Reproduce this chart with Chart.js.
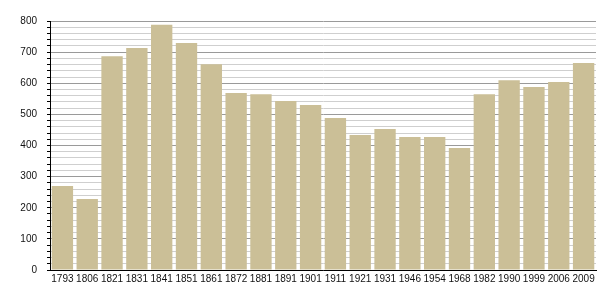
<!DOCTYPE html>
<html><head><meta charset="utf-8">
<script src="https://cdn.jsdelivr.net/npm/chart.js@4"></script>
<style>html,body{margin:0;padding:0;background:#fff}#w{width:605px;height:300px}</style>
</head><body><div id="w"><canvas id="c"></canvas></div>
<script>
const years = ["1793","1806","1821","1831","1841","1851","1861","1872","1881","1891","1901","1911","1921","1931","1946","1954","1968","1982","1990","1999","2006","2009"];
const population = [270,228,687,713,788,729,661,569,565,543,530,488,434,453,427,427,392,565,610,588,604,665];
const yTicks = [0,100,200,300,400,500,600,700,800];

new Chart(document.getElementById('c'), {
  type: 'bar',
  data: { labels: years, datasets: [{ data: population, backgroundColor: '#cbbf97', borderWidth: 0, barPercentage: 0.86, categoryPercentage: 1 }] },
  options: {
    responsive: true, maintainAspectRatio: false, animation: false,
    layout: { padding: { left: 0, right: 9, top: 21, bottom: 0 } },
    plugins: { legend: { display: false }, tooltip: { enabled: false } },
    scales: {
      x: {
        offset: true,
        grid: { display: false, drawTicks: false },
        border: { color: '#000', width: 1 },
        ticks: { color: '#111', font: { family: 'Liberation Sans', size: 10 }, padding: 3, maxRotation: 0, autoSkip: false },
        afterFit: s => { s.height = 30; }
      },
      y: {
        min: 0, max: 800,
        grid: {
          color: c => (c.tick && c.tick.value % 100 === 0) ? '#9a9a9a' : '#cfcfcf',
          tickColor: '#000', tickLength: 3, drawTicks: true
        },
        border: { color: '#000', width: 1 },
        ticks: {
          stepSize: 20, autoSkip: false,
          color: '#111', font: { family: 'Liberation Sans', size: 10 }, padding: 10,
          callback: v => yTicks.includes(v) ? String(v) : ''
        },
        afterFit: s => { s.width = 50; }
      }
    }
  }
});
</script></body></html>
